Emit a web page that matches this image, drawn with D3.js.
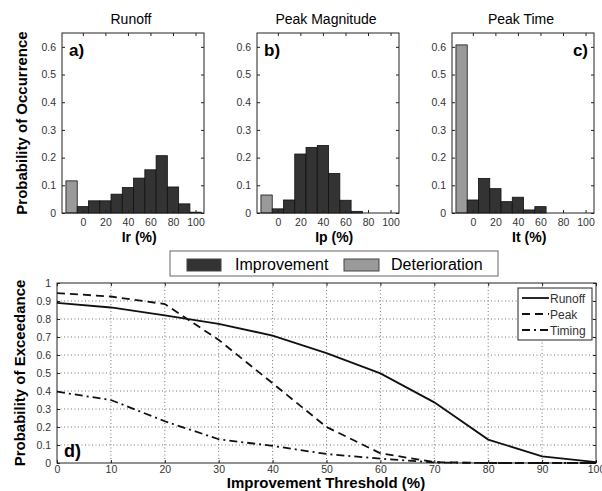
<!DOCTYPE html>
<html><head><meta charset="utf-8">
<script src="https://cdn.jsdelivr.net/npm/d3@7"></script>
<style>body{margin:0;background:#fff}text{font-family:"Liberation Sans",Arial,sans-serif}</style>
</head><body><svg id="c" width="602" height="491"></svg>
<script>
// ---- data ----
const binCenters = [0,10,20,30,40,50,60,70,80,90,100];
const runoffImp = [0.023,0.044,0.044,0.068,0.092,0.126,0.156,0.207,0.094,0.033,0.003];
const runoffDet = 0.116;
const peakImp = [0.015,0.047,0.213,0.237,0.244,0.143,0.046,0.006,0,0,0];
const peakDet = 0.065;
const timeImp = [0.047,0.125,0.088,0.041,0.057,0.011,0.023,0,0,0,0];
const timeDet = 0.607;
const detCenter = -10;
const histTitles = ["Runoff","Peak Magnitude","Peak Time"];
const histXLabels = ["Ir (%)","Ip (%)","It (%)"];
const histTags = ["a)","b)","c)"];
const histYTicks = [0,0.1,0.2,0.3,0.4,0.5,0.6];
const histXTicks = [0,20,40,60,80,100];

const thresholds = [0,10,20,30,40,50,60,70,80,90,100];
const excRunoff = [0.89,0.864,0.82,0.773,0.708,0.61,0.498,0.337,0.13,0.037,0.005];
const excPeak   = [0.944,0.925,0.883,0.684,0.443,0.2,0.054,0.005,0,0,0];
const excTiming = [0.396,0.35,0.232,0.132,0.095,0.05,0.024,0.003,0,0,0];
const excYTicks = [0,0.1,0.2,0.3,0.4,0.5,0.6,0.7,0.8,0.9,1];
const excXTicks = [0,10,20,30,40,50,60,70,80,90,100];
const lineNames = ["Runoff","Peak","Timing"];

const svg = d3.select("#c");
const darkC = "#333333", lightC = "#9a9a9a", tickC = "#333", tickFS = 10.5;

// ---- histograms ----
const panels = [
  {x0:62, imp:runoffImp, det:runoffDet, tagRight:false},
  {x0:257, imp:peakImp, det:peakDet, tagRight:false},
  {x0:452, imp:timeImp, det:timeDet, tagRight:true}
];
const pw = 142, hTop = 33, hBot = 213;
panels.forEach((p,i)=>{
  const x = d3.scaleLinear().domain([-18.5,107.5]).range([p.x0,p.x0+pw]);
  const y = d3.scaleLinear().domain([0,0.65]).range([hBot,hTop]);
  const g = svg.append("g");
  const bw = x(10)-x(0);
  g.append("rect").attr("x",x(detCenter)-bw/2).attr("width",bw)
    .attr("y",y(p.det)).attr("height",y(0)-y(p.det))
    .attr("fill",lightC).attr("stroke","#111").attr("stroke-width",0.8);
  g.selectAll("rect.imp").data(binCenters.map((c,k)=>({c,v:p.imp[k]}))).enter()
    .append("rect").attr("class","imp")
    .attr("x",d=>x(d.c)-bw/2).attr("width",bw)
    .attr("y",d=>y(d.v)).attr("height",d=>y(0)-y(d.v))
    .attr("fill",darkC).attr("stroke","#111").attr("stroke-width",0.8);
  const ax = d3.axisBottom(x).tickValues(histXTicks).tickSizeInner(-3).tickSizeOuter(0).tickPadding(6);
  const gx = g.append("g").attr("transform",`translate(0,${hBot})`).call(ax);
  const axT = d3.axisTop(x).tickValues(histXTicks).tickSizeInner(-3).tickSizeOuter(0).tickFormat("");
  const gxt = g.append("g").attr("transform",`translate(0,${hTop})`).call(axT);
  const ay = d3.axisLeft(y).tickValues(histYTicks).tickSizeInner(-3).tickSizeOuter(0).tickPadding(6)
    .tickFormat(d=>d===0?"0":d3.format(".1f")(d));
  const gy = g.append("g").attr("transform",`translate(${p.x0},0)`).call(ay);
  const ayR = d3.axisRight(y).tickValues(histYTicks).tickSizeInner(-3).tickSizeOuter(0).tickFormat("");
  const gyr = g.append("g").attr("transform",`translate(${p.x0+pw},0)`).call(ayR);
  [gx,gxt,gy,gyr].forEach(a=>{a.select(".domain").remove();a.selectAll("line").attr("stroke","#222");
    a.selectAll("text").attr("font-size",tickFS).attr("fill",tickC).style("font-family","Liberation Sans, Arial");});
  g.append("rect").attr("x",p.x0).attr("y",hTop).attr("width",pw).attr("height",hBot-hTop)
    .attr("fill","none").attr("stroke","#222").attr("stroke-width",1);
  g.append("text").attr("x",p.x0+pw/2-2).attr("y",24).attr("text-anchor","middle")
    .attr("font-size",14).text(histTitles[i]);
  g.append("text").attr("x",x(50)).attr("y",242).attr("text-anchor","middle")
    .attr("font-size",14).attr("font-weight","bold").text(histXLabels[i]);
  g.append("text").attr("x",p.tagRight?p.x0+pw-6:p.x0+7).attr("y",56)
    .attr("text-anchor",p.tagRight?"end":"start")
    .attr("font-size",17).attr("font-weight","bold").text(histTags[i]);
});
svg.append("text").attr("transform","translate(27,123) rotate(-90)").attr("text-anchor","middle")
  .attr("font-size",15).attr("font-weight","bold").text("Probability of Occurrence");

// ---- legend (bars) ----
svg.append("rect").attr("x",170).attr("y",251).attr("width",328).attr("height",25)
  .attr("fill","#fff").attr("stroke","#666").attr("stroke-width",1);
svg.append("rect").attr("x",187).attr("y",259).attr("width",34).attr("height",12).attr("fill",darkC).attr("stroke","#444");
svg.append("text").attr("x",235).attr("y",270).attr("font-size",16).text("Improvement");
svg.append("rect").attr("x",344).attr("y",259).attr("width",35).attr("height",12).attr("fill",lightC).attr("stroke","#444");
svg.append("text").attr("x",391).attr("y",270).attr("font-size",16).text("Deterioration");

// ---- exceedance plot ----
const L=57, R=596, T=283, B=463;
const x2 = d3.scaleLinear().domain([0,100]).range([L,R]);
const y2 = d3.scaleLinear().domain([0,1]).range([B,T]);
const g2 = svg.append("g");
g2.selectAll("line.gx").data(excXTicks.slice(1,-1)).enter().append("line")
  .attr("x1",d=>x2(d)).attr("x2",d=>x2(d)).attr("y1",T).attr("y2",B)
  .attr("stroke","#555").attr("stroke-width",0.8).attr("stroke-dasharray","1,2.5");
g2.selectAll("line.gy").data(excYTicks.slice(1,-1)).enter().append("line")
  .attr("y1",d=>y2(d)).attr("y2",d=>y2(d)).attr("x1",L).attr("x2",R)
  .attr("stroke","#555").attr("stroke-width",0.8).attr("stroke-dasharray","1,2.5");
const bx = d3.axisBottom(x2).tickValues(excXTicks).tickSizeInner(-3).tickSizeOuter(0).tickPadding(3);
const gbx = g2.append("g").attr("transform",`translate(0,${B})`).call(bx);
const by = d3.axisLeft(y2).tickValues(excYTicks).tickSizeInner(-3).tickSizeOuter(0).tickPadding(6)
  .tickFormat(d=>(d===0||d===1)?String(d):d3.format(".1f")(d));
const gby = g2.append("g").attr("transform",`translate(${L},0)`).call(by);
const byR = d3.axisRight(y2).tickValues(excYTicks).tickSizeInner(-3).tickSizeOuter(0).tickFormat("");
const gbyr = g2.append("g").attr("transform",`translate(${R},0)`).call(byR);
const bxT = d3.axisTop(x2).tickValues(excXTicks).tickSizeInner(-3).tickSizeOuter(0).tickFormat("");
const gbxt = g2.append("g").attr("transform",`translate(0,${T})`).call(bxT);
[gbx,gby,gbyr,gbxt].forEach(a=>{a.select(".domain").remove();a.selectAll("line").attr("stroke","#222");
  a.selectAll("text").attr("font-size",tickFS).attr("fill",tickC).style("font-family","Liberation Sans, Arial");});
g2.append("rect").attr("x",L).attr("y",T).attr("width",R-L).attr("height",B-T)
  .attr("fill","none").attr("stroke","#222").attr("stroke-width",1);

const line = d3.line().x((d,i)=>x2(thresholds[i])).y(d=>y2(d));
const styles = [null,"8,5","8,4,2,4"];
[excRunoff,excPeak,excTiming].forEach((s,k)=>{
  g2.append("path").attr("d",line(s)).attr("fill","none").attr("stroke","#111")
    .attr("stroke-width",1.8).attr("stroke-dasharray",styles[k]);
});
const lg = g2.append("g");
lg.append("rect").attr("x",518).attr("y",288).attr("width",74).attr("height",52)
  .attr("fill","#fff").attr("stroke","#222").attr("stroke-width",1);
lineNames.forEach((n,k)=>{
  const yy = 298+k*16;
  lg.append("line").attr("x1",522).attr("x2",549).attr("y1",yy).attr("y2",yy)
    .attr("stroke","#111").attr("stroke-width",1.8).attr("stroke-dasharray",styles[k]);
  lg.append("text").attr("x",550).attr("y",yy+4.5).attr("font-size",12).attr("fill","#333").text(n);
});
g2.append("text").attr("x",64).attr("y",457).attr("font-size",18).attr("font-weight","bold").text("d)");
svg.append("text").attr("x",326).attr("y",488).attr("text-anchor","middle")
  .attr("font-size",15).attr("font-weight","bold").text("Improvement Threshold (%)");
svg.append("text").attr("transform","translate(25,373) rotate(-90)").attr("text-anchor","middle")
  .attr("font-size",15).attr("font-weight","bold").text("Probability of Exceedance");
</script></body></html>
